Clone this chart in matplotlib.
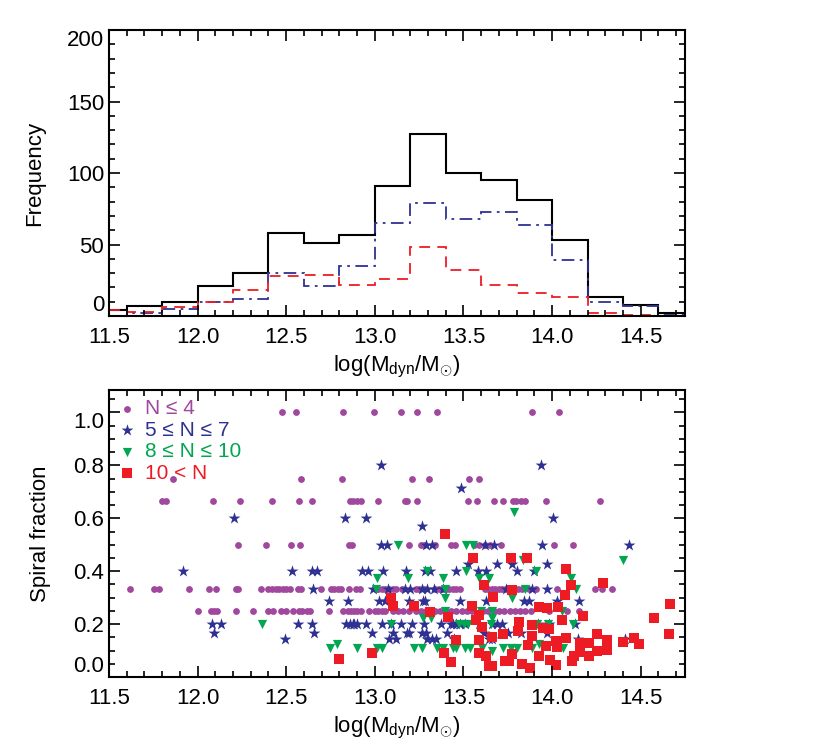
import matplotlib
matplotlib.use("Agg")
import matplotlib.pyplot as plt
from matplotlib.ticker import MultipleLocator, FormatStrFormatter

plt.rcParams['font.family'] = ['Liberation Sans', 'DejaVu Sans']
plt.rcParams['mathtext.fontset'] = 'custom'
plt.rcParams['mathtext.rm'] = 'Liberation Sans'
plt.rcParams['mathtext.it'] = 'Liberation Sans'

# ---- histogram (top panel) ----
bin_edges = [11.4, 11.6, 11.8, 12.0, 12.2, 12.4, 12.6, 12.8, 13.0, 13.2, 13.4,
             13.6, 13.8, 14.0, 14.2, 14.4, 14.6, 14.8]
hist_all = [4, 7, 10, 21, 30, 58, 51, 57, 91, 127, 100, 95, 81, 53, 13, 8, 2]
hist_blue = [0, 2, 5, 10, 12, 30, 21, 35, 65, 79, 68, 73, 64, 39, 10, 7, 1]
hist_red = [4, 3, 6, 10, 18, 28, 29, 22, 26, 48, 32, 22, 16, 13, 2, 1, 0]

# ---- spiral fraction (bottom panel) ----
# N <= 4
n4_x = [12.476, 12.558, 12.82, 12.998, 13.146, 13.236, 13.352, 13.884, 14.038,
        11.863, 12.586, 12.812, 13.208, 13.303, 13.533, 13.585,
        11.80, 11.82, 12.088, 12.242, 12.42, 12.573, 12.648, 12.86, 12.877, 12.90,
        12.92, 13.016, 13.17, 13.183, 13.236, 13.525, 13.578, 13.672, 13.723,
        13.779, 13.798, 13.822, 13.847, 13.963, 14.27,
        12.226, 12.385, 12.526, 12.579, 12.855, 12.87, 13.19, 13.26, 13.28, 13.34,
        13.43, 13.45, 13.56, 13.59, 13.62, 13.65, 13.71, 14.01, 14.12,
        11.616, 11.753, 11.785, 11.954, 12.063, 12.104, 12.216, 12.23, 12.357,
        12.40, 12.42, 12.44, 12.46, 12.48, 12.50, 12.52, 12.564, 12.586, 12.699,
        12.75, 12.77, 12.79, 12.81, 12.855, 12.896, 12.915, 13.005, 13.02, 13.04,
        13.06, 13.08, 13.10, 13.12, 13.155, 13.23, 13.25, 13.28, 13.34, 13.36,
        13.38, 13.40, 13.42, 13.44, 13.46, 13.48, 13.62, 13.64, 13.66, 13.68,
        13.70, 13.72, 13.74, 13.81, 13.83, 13.87, 13.91, 14.03, 14.245, 14.28, 14.34,
        12.004, 12.075, 12.09, 12.11, 12.216, 12.314, 12.395, 12.423, 12.47, 12.498,
        12.536, 12.573, 12.59, 12.62, 12.633, 12.742, 12.823, 12.85, 12.864, 12.883,
        12.90, 12.921, 12.968, 13.0, 13.02, 13.04, 13.06, 13.10, 13.13, 13.16,
        13.19, 13.23, 13.26, 13.29, 13.34, 13.37, 13.40, 13.43, 13.46, 13.49,
        13.52, 13.55, 13.61, 13.64, 13.67, 13.70, 13.73, 13.76, 13.79, 13.82,
        13.85, 13.88, 13.98, 14.085, 14.15]
n4_y = ([1.0] * 9 + [0.75] * 7 + [0.667] * 25 + [0.5] * 19 + [0.333] * 60
        + [0.25] * 55)

# 5 <= N <= 7
n7_x = [13.037, 13.935,
        13.484,
        12.203, 12.832, 12.949, 14.005,
        13.268,
        13.033, 13.067, 13.29, 13.324, 13.621, 13.672, 13.944, 14.433,
        13.527, 13.69, 13.772, 13.97,
        11.92, 12.53, 12.643, 12.676, 12.93, 12.964, 13.048, 13.178, 13.283,
        13.311, 13.456, 13.581, 13.628, 13.80, 13.90,
        12.652, 12.99, 13.076, 13.17, 13.2, 13.268, 13.296, 13.334, 13.384,
        13.738, 13.888, 13.969,
        12.742, 12.846, 13.024, 13.06, 13.193, 13.27, 13.283, 13.48, 13.625,
        13.841, 13.869, 14.029, 14.151,
        12.079, 12.134, 12.564, 12.648, 12.836, 12.86, 12.874, 12.883, 12.902,
        12.949, 13.043, 13.09, 13.146, 13.212, 13.277, 13.371, 13.427, 13.44,
        13.46, 13.48, 13.51, 13.587, 13.66, 13.69, 13.72, 13.92, 13.98, 14.128,
        12.094, 12.658, 12.982, 13.104, 13.18, 13.193, 13.264, 13.287, 13.409,
        13.615, 13.753, 13.822, 13.972,
        12.494, 13.08, 13.118, 13.296, 13.324, 13.343, 13.446, 13.645, 13.66,
        14.147, 14.41]
n7_y = ([0.8] * 2 + [0.714] + [0.6] * 4 + [0.571] + [0.5] * 8 + [0.429] * 4
        + [0.4] * 15 + [0.333] * 12 + [0.286] * 13 + [0.2] * 28 + [0.167] * 13
        + [0.143] * 11)

# 8 <= N <= 10
n10_x = [13.785,
         13.13, 13.512, 13.553,
         13.837, 14.401,
         13.296, 13.512, 13.911,
         13.015, 13.189, 13.384, 13.587, 13.644, 14.104,
         13.009, 13.396, 13.847, 14.135,
         13.396, 13.775,
         13.396, 13.60, 13.659, 14.057,
         13.272, 13.315, 13.659,
         12.361, 13.094, 13.475, 13.503, 13.527, 13.653, 13.916, 13.978, 14.117,
         12.785, 13.926,
         12.748, 12.902, 13.015, 13.04, 13.221, 13.264, 13.349, 13.384, 13.44,
         13.456, 13.508, 13.535, 13.602, 13.723, 13.77, 13.80, 13.884, 14.061,
         13.663]
n10_y = ([0.625] + [0.5] * 3 + [0.444] * 2 + [0.4] * 3 + [0.375] * 6
         + [0.333] * 4 + [0.3] * 2 + [0.25] * 4 + [0.222] * 3 + [0.2] * 9
         + [0.125] * 2 + [0.111] * 18 + [0.1])

# 10 < N
big_x = [13.394, 13.553, 13.766, 13.86, 13.615, 14.076, 14.104, 14.288,
         13.094, 13.10, 13.221, 13.311, 13.414, 13.456, 13.39, 13.428,
         13.546, 13.568, 13.587, 13.606, 13.666, 13.662, 13.587, 13.625,
         13.644, 13.66, 12.799, 12.983, 13.587, 13.775, 14.072, 13.926,
         13.972, 14.033, 14.176, 14.667, 14.057, 13.813, 13.884, 13.948,
         13.982, 14.574, 13.663, 13.723, 13.81, 13.884, 14.076, 14.16,
         14.207, 14.254, 14.31, 14.399, 14.46, 14.489, 14.662, 13.866,
         13.967, 14.02, 14.029, 13.775, 13.757, 13.926, 13.991, 14.02,
         14.11, 14.123, 14.16, 14.211, 14.254, 14.31, 13.828, 13.873, 13.734]
big_y = [0.54, 0.449, 0.45, 0.45, 0.348, 0.408, 0.348, 0.354,
         0.30, 0.27, 0.269, 0.245, 0.226, 0.141, 0.091, 0.056,
         0.269, 0.217, 0.235, 0.19, 0.304, 0.151, 0.091, 0.08,
         0.042, 0.04, 0.069, 0.089, 0.141, 0.33, 0.31, 0.265,
         0.26, 0.265, 0.231, 0.276, 0.214, 0.208, 0.198, 0.186,
         0.182, 0.225, 0.153, 0.163, 0.174, 0.155, 0.146, 0.127,
         0.127, 0.163, 0.14, 0.134, 0.149, 0.126, 0.163, 0.12,
         0.116, 0.137, 0.114, 0.088, 0.061, 0.081, 0.063, 0.044,
         0.061, 0.079, 0.094, 0.079, 0.1, 0.102, 0.048, 0.034, 0.061]

freq_ticks = [0, 50, 100, 150, 200]
frac_ticks = [0.0, 0.2, 0.4, 0.6, 0.8, 1.0]

purple = '#A0479E'
navy = '#2E3192'
green = '#00A651'
red = '#ED1C24'

fig = plt.figure(figsize=(8.3, 7.51), dpi=100)
ax1 = fig.add_axes([0.1313, 0.5792, 0.694, 0.3808])
ax2 = fig.add_axes([0.1313, 0.0985, 0.694, 0.3822])

xlab = r'log(M$_{\mathrm{dyn}}$/M$_{\odot}$)'

# top: histograms
ax1.stairs(hist_all, bin_edges, baseline=None, color='black', lw=1.5)
ax1.stairs(hist_blue, bin_edges, baseline=None, color=navy, lw=1.3,
           linestyle=(0, (7, 3, 1.5, 3)))
ax1.stairs(hist_red, bin_edges, baseline=None, color=red, lw=1.3,
           linestyle=(0, (6, 4)))
ax1.set_ylim(0, 200)
ax1.set_yticks(freq_ticks)
ax1.yaxis.set_minor_locator(MultipleLocator(10))
ax1.set_ylabel('Frequency', fontsize=16, labelpad=16)

# bottom: scatter
ax2.scatter(n4_x, n4_y, s=24, marker='o', color=purple, lw=0, label='N ≤ 4')
ax2.scatter(n7_x, n7_y, s=80, marker='*', color=navy, lw=0, label='5 ≤ N ≤ 7')
ax2.scatter(n10_x, n10_y, s=44, marker='v', color=green, lw=0, label='8 ≤ N ≤ 10')
ax2.scatter(big_x, big_y, s=52, marker='s', color=red, lw=0, label='10 < N')
ax2.set_ylim(0, 1.085)
ax2.set_yticks(frac_ticks)
ax2.yaxis.set_minor_locator(MultipleLocator(0.05))
ax2.yaxis.set_major_formatter(FormatStrFormatter('%.1f'))
ax2.set_ylabel('Spiral fraction', fontsize=16, labelpad=16)

leg = ax2.legend(loc='upper left', frameon=False, fontsize=15,
                 handlelength=0.8, handletextpad=0.5, labelspacing=0.12,
                 borderaxespad=0.3, borderpad=0.15, scatterpoints=1)
for txt, c in zip(leg.get_texts(), [purple, navy, green, red]):
    txt.set_color(c)

for ax in (ax1, ax2):
    ax.set_xlim(11.5, 14.75)
    ax.xaxis.set_major_locator(MultipleLocator(0.5))
    ax.xaxis.set_minor_locator(MultipleLocator(0.1))
    ax.xaxis.set_major_formatter(FormatStrFormatter('%.1f'))
    ax.tick_params(which='both', direction='in', top=True, right=True,
                   labelsize=16, width=1.2)
    ax.tick_params(which='major', length=8)
    ax.tick_params(which='minor', length=4)
    ax.tick_params(axis='x', pad=8)
    for sp in ax.spines.values():
        sp.set_linewidth(1.5)
    ax.set_xlabel(xlab, fontsize=16, labelpad=4)
    # end labels sit inside the axis range, like the original
    yt = ax.yaxis.get_major_ticks()
    yt[0].label1.set_verticalalignment('bottom')
    yt[-1].label1.set_verticalalignment('top')

fig.savefig('out.png', dpi=100)
